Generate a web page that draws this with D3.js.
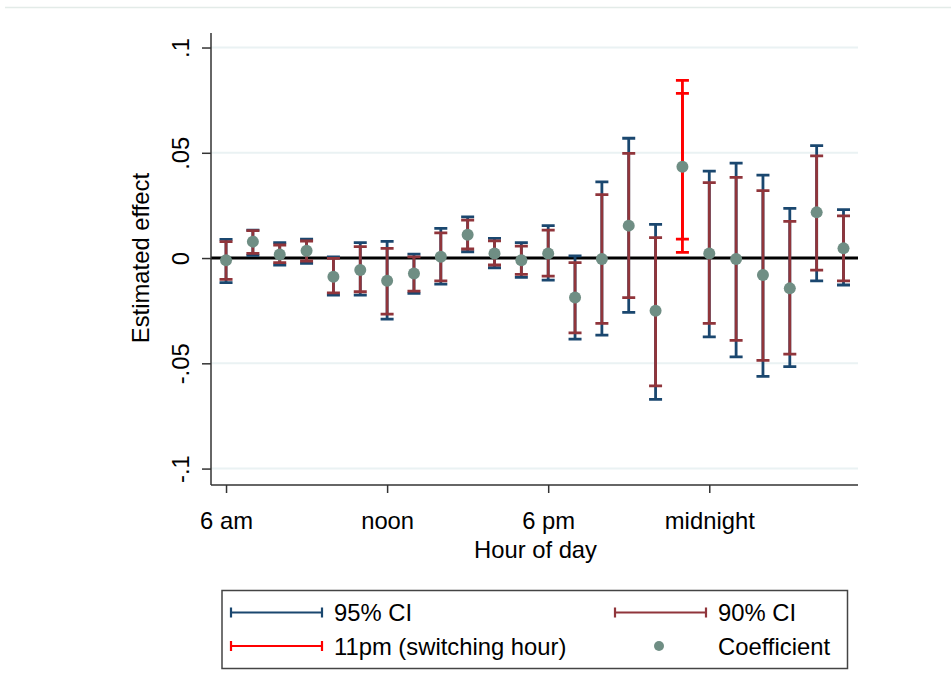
<!DOCTYPE html>
<html>
<head>
<meta charset="utf-8">
<script src="https://cdn.jsdelivr.net/npm/d3@7"></script>
<style>
  body { margin: 0; background: #fff; }
  svg { display: block; font-family: "Liberation Sans", Arial, sans-serif; }
</style>
</head>
<body>
<svg width="951" height="696"></svg>
<script>
// hours of day, 6am through 5am
const hours = ["6am","7am","8am","9am","10am","11am","noon","1pm","2pm","3pm","4pm","5pm",
  "6pm","7pm","8pm","9pm","10pm","11pm","midnight","1am","2am","3am","4am","5am"];
const coef = [-0.001, 0.0078, 0.0017, 0.0035, -0.0089, -0.0057, -0.0108, -0.0073, 0.0006, 0.0111, 0.0022, -0.001,
  0.0022, -0.0187, -0.0005, 0.0154, -0.025, 0.0434, 0.0022, -0.0005, -0.0081, -0.0144, 0.0217, 0.0046];
const hi95 = [0.0089, 0.0133, 0.0073, 0.009, 0.0006, 0.0073, 0.0079, 0.0019, 0.0141, 0.0196, 0.0093, 0.0073,
  0.0154, 0.001, 0.0362, 0.0569, 0.016, 0.0844, 0.0413, 0.0451, 0.0394, 0.0236, 0.0534, 0.023];
const lo95 = [-0.0117, 0.0013, -0.0033, -0.0025, -0.0176, -0.0176, -0.029, -0.0168, -0.0124, 0.003, -0.0046, -0.0092,
  -0.0105, -0.0385, -0.0366, -0.0258, -0.0671, 0.0027, -0.0374, -0.0469, -0.0562, -0.0516, -0.0108, -0.0128];
const hi90 = [0.0078, 0.013, 0.0062, 0.0081, -0.0002, 0.0054, 0.0046, 0.0006, 0.012, 0.018, 0.0082, 0.0057,
  0.0133, -0.0022, 0.0301, 0.0497, 0.0097, 0.0782, 0.0358, 0.0383, 0.032, 0.0174, 0.0485, 0.02];
const lo90 = [-0.0101, 0.0022, -0.0022, -0.0014, -0.0165, -0.016, -0.0266, -0.0157, -0.0108, 0.0043, -0.0033, -0.0078,
  -0.0086, -0.0355, -0.031, -0.0188, -0.0607, 0.009, -0.031, -0.0391, -0.0486, -0.0456, -0.0057, -0.0108];
const switchHour = "11pm";

const xTicks = ["6am", "noon", "6pm", "midnight"];
const xTickLabels = ["6 am", "noon", "6 pm", "midnight"];
const yTicks = [-0.1, -0.05, 0, 0.05, 0.1];
const yTickLabels = ["-.1", "-.05", "0", ".05", ".1"];

const navy = "#1a476f", maroon = "#90353b", red = "#ff0000", dotColor = "#6f8e84";
const fs = "23.8px";

let plot = { left: 211, right: 858, top: 33, bottom: 485 };

const svg = d3.select("svg");

const data = hours.map((h, i) => ({
  hour: h, i, coef: coef[i], lo95: lo95[i], hi95: hi95[i], lo90: lo90[i], hi90: hi90[i]
}));

const x = d3.scaleLinear().domain([-0.56, 23.54]).range([plot.left, plot.right]);
const y = d3.scaleLinear().domain([-0.1078, 0.1069]).range([plot.bottom, plot.top]);

// faint frame line at the top
svg.append("line").attr("x1", 5).attr("x2", 951).attr("y1", 7.5).attr("y2", 7.5)
  .attr("stroke", "#e3ebe8").attr("stroke-width", 1.5);

// gridlines
svg.append("g").selectAll("line")
  .data(yTicks.filter(t => t !== 0))
  .enter().append("line")
  .attr("x1", plot.left).attr("x2", plot.right)
  .attr("y1", d => y(d)).attr("y2", d => y(d))
  .attr("stroke", "#eaf2f3").attr("stroke-width", 2);

// zero line
svg.append("line")
  .attr("x1", plot.left).attr("x2", plot.right)
  .attr("y1", y(0)).attr("y2", y(0))
  .attr("stroke", "#000").attr("stroke-width", 3);

// y axis
const yAxis = svg.append("g").attr("transform", `translate(${plot.left},0)`)
  .call(d3.axisLeft(y).tickValues(yTicks).tickSize(9).tickFormat((d, i) => yTickLabels[i]));
yAxis.select(".domain").attr("d", `M0,${plot.top}V${plot.bottom}`).attr("stroke", "#333").attr("stroke-width", 1.5);
yAxis.selectAll(".tick line").attr("stroke", "#333").attr("stroke-width", 1.5);
yAxis.selectAll(".tick text")
  .attr("x", 0).attr("y", 0).attr("dy", "0.35em")
  .attr("transform", "translate(-30,0) rotate(-90)")
  .attr("text-anchor", "middle")
  .attr("font-size", fs).attr("fill", "#000")
  .attr("font-family", "Liberation Sans, Arial, sans-serif");

// x axis
const xAxis = svg.append("g").attr("transform", `translate(0,${plot.bottom})`)
  .call(d3.axisBottom(x).tickValues(xTicks.map(t => hours.indexOf(t))).tickSize(8)
    .tickFormat(d => xTickLabels[xTicks.indexOf(hours[d])]));
xAxis.select(".domain").attr("d", `M${plot.left},0H${plot.right}`).attr("stroke", "#333").attr("stroke-width", 1.5);
xAxis.selectAll(".tick line").attr("stroke", "#333").attr("stroke-width", 1.5);
xAxis.selectAll(".tick text")
  .attr("y", 27).attr("dy", "0.71em")
  .attr("font-size", fs).attr("fill", "#000")
  .attr("font-family", "Liberation Sans, Arial, sans-serif");

svg.append("text")
  .attr("x", (plot.left + plot.right) / 2 + 1).attr("y", 558)
  .attr("text-anchor", "middle").attr("font-size", fs)
  .text("Hour of day");
svg.append("text")
  .attr("transform", `translate(149,${y(0)}) rotate(-90)`)
  .attr("text-anchor", "middle").attr("font-size", fs)
  .text("Estimated effect");

// range caps: vertical line plus caps at both ends
function drawCap(g, lo, hi, color) {
  const w = 6.5;
  g.selectAll(null).data(data).enter().append("path")
    .attr("d", d => {
      const cx = x(d.i), y1 = y(d[lo]), y2 = y(d[hi]);
      return `M${cx},${y1}V${y2}M${cx - w},${y1}H${cx + w}M${cx - w},${y2}H${cx + w}`;
    })
    .attr("fill", "none")
    .attr("stroke", d => d.hour === switchHour ? red : color)
    .attr("stroke-width", 2.8);
}

const g = svg.append("g");
drawCap(g, "lo95", "hi95", navy);
drawCap(g, "lo90", "hi90", maroon);

g.selectAll("circle").data(data).enter().append("circle")
  .attr("cx", d => x(d.i)).attr("cy", d => y(d.coef))
  .attr("r", 6).attr("fill", dotColor);

// legend
const legend = svg.append("g");
legend.append("rect")
  .attr("x", 222).attr("y", 590.5).attr("width", 625.5).attr("height", 78)
  .attr("fill", "#fff").attr("stroke", "#444").attr("stroke-width", 1.5);

const legendItems = [
  { label: "95% CI", color: navy, type: "cap", x: 231, row: 0 },
  { label: "90% CI", color: maroon, type: "cap", x: 615, row: 0 },
  { label: "11pm (switching hour)", color: red, type: "cap", x: 231, row: 1 },
  { label: "Coefficient", color: dotColor, type: "dot", x: 615, row: 1 }
];
const rowY = [612.5, 646];

legendItems.forEach(d => {
  const ly = rowY[d.row];
  if (d.type === "cap") {
    legend.append("path")
      .attr("d", `M${d.x},${ly}H${d.x + 91}M${d.x},${ly - 5}V${ly + 5}M${d.x + 91},${ly - 5}V${ly + 5}`)
      .attr("fill", "none").attr("stroke", d.color).attr("stroke-width", 2.2);
  } else {
    legend.append("circle").attr("cx", d.x + 44).attr("cy", ly).attr("r", 5).attr("fill", d.color);
  }
  legend.append("text")
    .attr("x", d.x + 103).attr("y", ly).attr("dy", "0.36em")
    .attr("font-size", fs).text(d.label);
});
</script>
</body>
</html>
